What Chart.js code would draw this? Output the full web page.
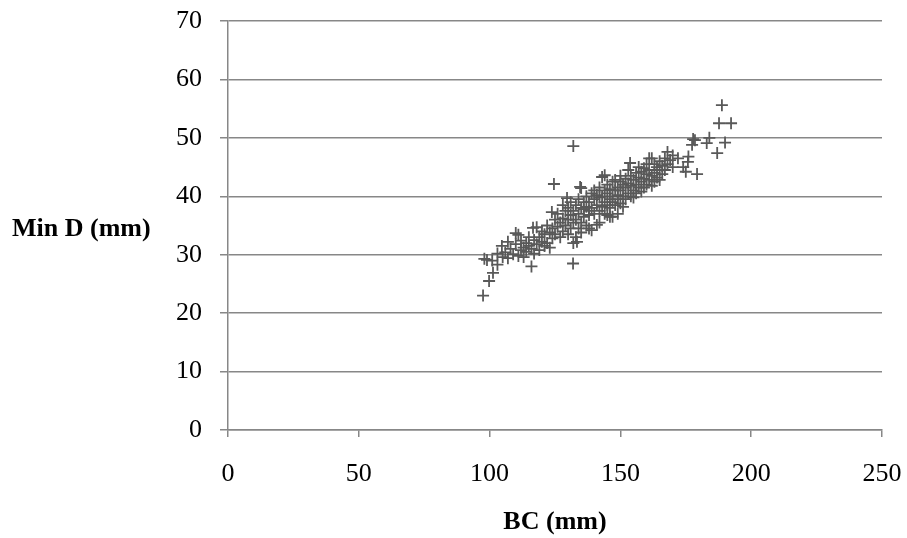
<!DOCTYPE html>
<html>
<head>
<meta charset="utf-8">
<script src="https://cdn.jsdelivr.net/npm/chart.js@4"></script>
<style>
  body { margin: 0; background: #fff; }
</style>
</head>
<body>
<canvas id="scatter" width="907" height="538"></canvas>
<script>
// axis text
var xTitle = "BC (mm)";
var yTitle = "Min D (mm)";
var xTicks = [0, 50, 100, 150, 200, 250];
var yTicks = [0, 10, 20, 30, 40, 50, 60, 70];

// BC (mm) values
var bcValues = [
    97.5, 99.8, 101.3, 103, 99, 98, 101, 104.7, 103, 105,
    106, 107, 107, 108, 109, 110, 110, 111, 111, 112,
    112, 113, 113, 114, 114, 115, 115, 116, 116.6, 116,
    117, 117, 118, 118, 119, 119, 120, 120, 121, 121,
    122, 122, 123, 123, 123.8, 124, 124, 124.6, 125, 125,
    126, 126, 127, 127, 128, 128, 128, 129, 129, 129.6,
    130, 130, 130, 131, 131, 131, 132, 131.9, 132, 132,
    132, 133, 133, 133, 133.4, 134, 134, 134, 134.6, 135,
    135, 135, 135, 136, 136, 136, 137, 137, 137, 138,
    138, 138, 138, 139, 139, 139, 140, 140, 140, 141,
    141, 141, 142, 142, 142, 142, 143, 143, 143, 144,
    144, 144, 144, 145, 145, 145, 145, 146, 146, 146,
    146, 147, 147, 147, 147, 148, 148, 148, 149, 149,
    149, 149, 150, 150, 150, 150, 151, 151, 151, 152,
    152, 152, 153, 153, 153, 153.7, 154, 154, 154, 155,
    155, 155, 156, 156, 156, 157, 157, 157, 158, 158,
    158, 159, 159, 159, 160, 160, 160, 161, 161, 161,
    162, 162, 162, 163, 163, 163, 164, 164, 165, 165,
    165, 166, 166, 167, 167, 168, 168, 169, 170, 170,
    172, 174, 175.8, 175, 176, 177.4, 178.5, 177.8, 179.3, 183,
    184, 187, 187.7, 188.8, 190, 192.3
];

// Min D (mm) values, same order as bcValues
var minDValues = [
    23.0, 25.5, 26.9, 28.3, 29.1, 29.3, 29.0, 31.5, 30.2, 29.6,
    30.4, 32.2, 29.4, 31.0, 30.1, 33.7, 31.8, 33.4, 29.8, 30.8,
    32.4, 31.2, 29.6, 32.0, 30.5, 31.5, 33.0, 28.0, 34.6, 31.0,
    32.5, 30.2, 34.7, 31.8, 33.0, 30.8, 32.2, 34.0, 31.5, 33.5,
    35.0, 32.0, 33.8, 31.2, 37.3, 34.5, 32.8, 42.1, 36.0, 33.5,
    34.8, 37.0, 35.5, 33.0, 36.2, 34.0, 38.5, 35.0, 37.5, 39.7,
    33.5, 36.0, 38.0, 34.5, 36.8, 39.0, 48.6, 28.5, 32.0, 35.5,
    37.5, 33.0, 36.0, 38.5, 32.2, 34.5, 37.0, 39.5, 41.6, 35.5,
    38.0, 41.4, 33.8, 36.5, 39.0, 37.8, 35.0, 38.2, 40.0, 36.8,
    39.0, 37.5, 34.5, 38.0, 40.5, 34.2, 37.0, 39.5, 41.0, 35.1,
    38.5, 40.2, 37.5, 39.8, 41.5, 35.5, 43.3, 38.2, 40.0, 43.6,
    39.0, 37.0, 41.0, 38.5, 40.5, 42.0, 36.8, 39.5, 41.2, 38.0,
    36.5, 40.0, 42.5, 39.0, 36.5, 38.5, 41.0, 42.8, 39.5, 41.5,
    40.2, 37.0, 38.8, 41.0, 42.5, 43.5, 38.2, 40.0, 42.0, 39.5,
    41.5, 43.0, 40.5, 42.2, 44.5, 45.7, 40.0, 41.8, 43.5, 41.0,
    42.8, 39.8, 42.0, 44.0, 40.5, 41.5, 43.2, 45.0, 42.5, 44.2,
    40.8, 43.0, 41.5, 44.8, 42.0, 43.8, 45.5, 46.5, 42.8, 44.5,
    46.5, 43.5, 41.8, 44.0, 45.5, 42.5, 43.2, 45.0, 44.5, 46.0,
    42.8, 45.2, 43.8, 46.5, 44.5, 47.6, 45.5, 46.2, 45.0, 47.0,
    46.5, 45.0, 45.9, 44.2, 46.8, 48.8, 49.6, 49.8, 43.8, 49.1,
    50.0, 47.4, 52.5, 55.6, 49.2, 52.5
];

var points = bcValues.map((bc, i) => ({ x: bc, y: minDValues[i] }));

var serifFont = '"Liberation Serif", "Times New Roman", serif';
var gridColor = "#878787";

// Excel draws the y title flat, so it is painted by hand
var axisTitles = {
    id: "axisTitles",
    afterDraw(chart) {
        var ctx = chart.ctx;
        var area = chart.chartArea;
        ctx.save();
        ctx.fillStyle = "#000";
        ctx.font = "bold 26px " + serifFont;
        ctx.textBaseline = "middle";
        ctx.textAlign = "left";
        ctx.fillText(yTitle, 12, (area.top + area.bottom) / 2 + 4);
        ctx.textAlign = "center";
        ctx.fillText(xTitle, (area.left + area.right) / 2, area.bottom + 92);
        ctx.restore();
    }
};

new Chart(document.getElementById("scatter"), {
    type: "scatter",
    data: {
        datasets: [{
            data: points,
            pointStyle: "cross",
            pointRadius: 6,
            pointHoverRadius: 6,
            borderColor: "#595959",
            backgroundColor: "#595959",
            pointBorderWidth: 1.8
        }]
    },
    options: {
        responsive: false,
        animation: false,
        layout: { padding: { top: 21, right: 25, bottom: 0, left: 0 } },
        plugins: {
            legend: { display: false },
            tooltip: { enabled: false }
        },
        scales: {
            x: {
                type: "linear",
                min: 0,
                max: 250,
                afterBuildTicks: s => { s.ticks = xTicks.map(v => ({ value: v })); },
                afterFit: s => {
                    s.height = 108;
                    s.paddingLeft = 0;
                    s.paddingRight = 0;
                },
                border: { display: true, color: gridColor, width: 1.5 },
                grid: {
                    drawOnChartArea: false,
                    drawTicks: true,
                    tickLength: 7,
                    color: gridColor,
                    lineWidth: 1.5
                },
                ticks: {
                    color: "#000",
                    padding: 22,
                    maxRotation: 0,
                    font: { family: serifFont, size: 26 }
                }
            },
            y: {
                type: "linear",
                min: 0,
                max: 70,
                afterBuildTicks: s => { s.ticks = yTicks.map(v => ({ value: v })); },
                afterFit: s => {
                    s.width = 228;
                    s.paddingTop = 0;
                    s.paddingBottom = 0;
                },
                border: { display: true, color: gridColor, width: 1.5 },
                grid: {
                    drawOnChartArea: true,
                    drawTicks: true,
                    tickLength: 8,
                    color: gridColor,
                    lineWidth: 1.5
                },
                ticks: {
                    color: "#000",
                    padding: 18,
                    font: { family: serifFont, size: 26 }
                }
            }
        }
    },
    plugins: [axisTitles]
});
</script>
</body>
</html>
